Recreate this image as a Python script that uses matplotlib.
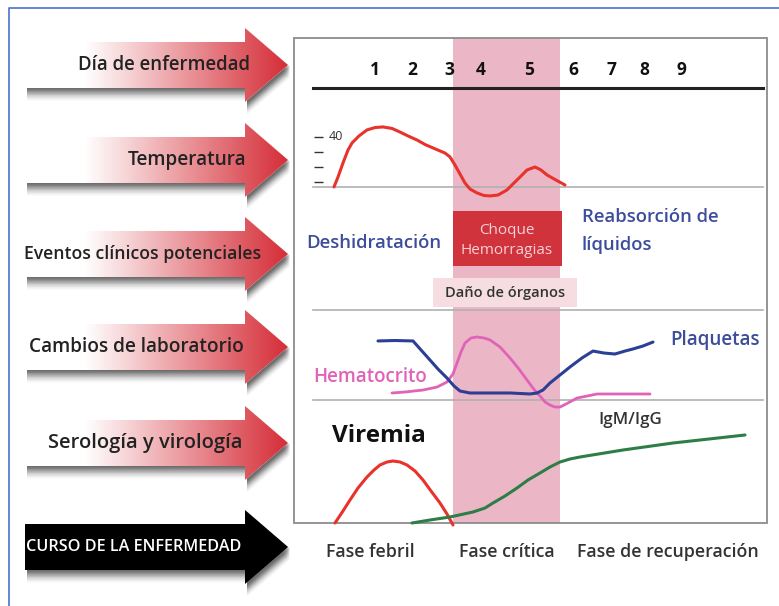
import numpy as np
import matplotlib.pyplot as plt
from matplotlib.patches import Polygon, Rectangle

plt.rcParams['font.family'] = ['Open Sans', 'DejaVu Sans']

W, H = 779, 606

### Etiquetas de filas (flechas)
row_labels = ['Día de enfermedad', 'Temperatura', 'Eventos clínicos potenciales',
              'Cambios de laboratorio', 'Serología y virología', 'CURSO DE LA ENFERMEDAD']
row_y = [65, 160, 254, 347, 443, 547]
row_right = [250, 246, 261, 244, 243, 241]
row_size = [13.4, 13.7, 12.7, 13.7, 14.5, 11.7]

### Dias
day_labels = ['1', '2', '3', '4', '5', '6', '7', '8', '9']
day_x = [375, 412, 449, 481, 529, 573, 611, 644, 681]

### Temperatura (grados C)
temp_x = [334, 338, 343, 348, 352, 359, 367, 375, 383, 392, 400, 408, 417, 425, 433, 440,
          445, 450, 455, 460, 465, 470, 477, 484, 490, 498, 507, 513, 520, 527, 535, 541,
          547, 556, 565]
temp_c = [36.67, 37.33, 38.27, 39.13, 39.6, 40.07, 40.47, 40.63, 40.67, 40.57, 40.33, 40.07,
          39.8, 39.5, 39.27, 39.07, 38.93, 38.67, 38.13, 37.53, 36.93, 36.53, 36.27, 36.1,
          36.07, 36.13, 36.47, 36.87, 37.33, 37.8, 38.0, 37.8, 37.47, 37.13, 36.8]
temp_ticks = [37, 38, 39, 40]

### Laboratorio (nivel relativo)
plaq_x = [378, 395, 413, 421, 430, 438, 447, 454, 460, 470, 490, 510, 530, 537, 543, 550,
          560, 570, 582, 593, 604, 615, 625, 633, 643, 653]
plaq_v = [65.6, 66.1, 65.6, 55.6, 44.4, 34.4, 24.4, 15.6, 10.0, 7.8, 7.8, 7.8, 6.7, 7.8,
          11.1, 18.9, 27.8, 36.7, 46.7, 54.4, 52.2, 51.1, 54.4, 56.7, 60.0, 64.4]
hema_x = [392, 405, 423, 437, 447, 453, 457, 461, 465, 471, 477, 484, 490, 500, 510, 519,
          527, 533, 537, 541, 545, 550, 555, 560, 568, 577, 587, 597, 620, 650]
hema_v = [7.8, 8.9, 11.1, 14.4, 20.0, 28.9, 41.1, 53.3, 63.3, 68.9, 70.0, 68.9, 66.7, 58.9,
          46.7, 34.4, 22.2, 13.3, 7.8, 3.3, -2.2, -5.6, -7.8, -7.8, -3.3, 2.2, 4.4, 6.7,
          6.7, 6.7]

### Serologia (nivel relativo)
vir_x = [335, 343, 350, 358, 367, 374, 380, 387, 393, 400, 407, 415, 423, 431, 440, 447, 453]
vir_v = [0, 12, 23, 35, 46, 53, 58, 61, 62, 61, 58, 52, 43, 32, 20, 9, -2]
igg_x = [412, 430, 450, 473, 485, 493, 505, 517, 528, 540, 550, 560, 570, 580, 623, 673, 745]
igg_v = [0, 3, 6, 11, 15, 20, 27, 35, 43, 50, 56, 61, 64, 66, 73, 80, 88]

### Fases
phase_labels = ['Fase febril', 'Fase crítica', 'Fase de recuperación']
phase_x = [370, 507, 668]

RED = '#e8322c'
BLUE = '#2b3f94'
PINK = '#e063b8'
GREEN = '#2e7d46'
TXTBLUE = '#3d4d9c'
SW = 'semibold'
LW = 2.2

fig = plt.figure(figsize=(W / 100, H / 100), dpi=100)
ax = fig.add_axes([0, 0, 1, 1])
ax.set_xlim(0, W)
ax.set_ylim(H, 0)
ax.axis('off')

# marco azul
ax.plot([9, 9, W], [H, 8, 8], color='#4a6fd0', lw=1.2)

# flechas
def arrow_pts(cy, x0=25, xh=245, xt=288, bh=23, hh=37):
    return [(x0, cy - bh), (xh, cy - bh), (xh, cy - hh), (xt, cy),
            (xh, cy + hh), (xh, cy + bh), (x0, cy + bh)]

xs = np.linspace(25, 288, 300)
t = np.clip((xs - 85) / 200.0, 0, 1)
red = np.array([214, 48, 58]) / 255.0
grad = (1 - t)[:, None] * np.ones(3) + t[:, None] * red
grad = grad[None, :, :]

for i, cy in enumerate(row_y):
    pts = arrow_pts(cy)
    for k, a in zip(range(1, 10), [0.13, 0.13, 0.12, 0.11, 0.09, 0.07, 0.05, 0.04, 0.03]):
        sh = Polygon([(x + 2, y + k * 1.4) for x, y in pts], closed=True,
                     fc='black', ec='none', alpha=a)
        ax.add_patch(sh)
    poly = Polygon(pts, closed=True, fc='white' if i < 5 else 'black', ec='none')
    ax.add_patch(poly)
    if i < 5:
        im = ax.imshow(grad, extent=(25, 288, cy + 37, cy - 37), aspect='auto',
                       interpolation='bilinear', zorder=2)
        im.set_clip_path(poly)
        ax.text(row_right[i], cy, row_labels[i], ha='right', va='center',
                fontsize=row_size[i], color='#222222', zorder=3, fontweight=SW)
    else:
        ax.text(row_right[i], cy, row_labels[i], ha='right', va='center',
                fontsize=row_size[i], color='white', zorder=3, fontweight=SW)

ax.set_xlim(0, W)
ax.set_ylim(H, 0)

# panel
ax.add_patch(Rectangle((453, 38), 107, 485, fc='#ebb7c6', ec='none', zorder=1))
ax.add_patch(Rectangle((294, 38), 473, 485, fill=False, ec='#8c8c8c', lw=1.3, zorder=4))
ax.plot([313, 763], [88, 88], color='#222222', lw=2.2, zorder=3)
for yy in [187, 310, 400]:
    ax.plot([313, 763], [yy, yy], color='#b0b0b0', lw=1.2, zorder=2)

for lab, x in zip(day_labels, day_x):
    ax.text(x, 70, lab, ha='center', va='center', fontsize=12.5, fontweight='bold',
            color='#111111', zorder=3)

# eventos clinicos
ax.text(374, 243, 'Deshidratación', ha='center', va='center', fontsize=13.3,
        color=TXTBLUE, fontweight=SW)
ax.add_patch(Rectangle((453, 211), 109, 55, fc='#d0333b', ec='none', zorder=2))
ax.text(507, 230, 'Choque', ha='center', va='center', fontsize=11, color='#f7d0d8',
        zorder=3)
ax.text(507, 251, 'Hemorragias', ha='center', va='center', fontsize=11, color='#f7d0d8',
        zorder=3)
ax.text(582, 217, 'Reabsorción de', ha='left', va='center', fontsize=13.3, color=TXTBLUE,
        fontweight=SW)
ax.text(582, 245, 'líquidos', ha='left', va='center', fontsize=13.3, color=TXTBLUE,
        fontweight=SW)
ax.add_patch(Rectangle((433, 278), 144, 29, fc='#f6dde1', ec='none', zorder=2))
ax.text(505, 293, 'Daño de órganos', ha='center', va='center', fontsize=10.5,
        color='#333333', zorder=3, fontweight=SW)

# laboratorio / serologia textos
ax.text(670, 340, 'Plaquetas', ha='left', va='center', fontsize=13.5, color=TXTBLUE,
        fontweight=SW)
ax.text(313, 377, 'Hematocrito', ha='left', va='center', fontsize=13.5, color=PINK,
        fontweight=SW)
ax.text(332, 436, 'Viremia', ha='left', va='center', fontsize=17.5, fontweight='bold',
        color='#111111')
ax.text(598, 420, 'IgM/IgG', ha='left', va='center', fontsize=12.2, color='#333333',
        fontweight=SW)

for lab, x in zip(phase_labels, phase_x):
    ax.text(x, 552, lab, ha='center', va='center', fontsize=12.8, color='#333333',
            fontweight=SW)


def row_axes(top, bottom, ylim):
    a = fig.add_axes([0, 1 - bottom / H, 1, (bottom - top) / H])
    a.set_xlim(0, W)
    a.set_ylim(*ylim)
    a.axis('off')
    a.patch.set_alpha(0)
    return a

# temperatura
axt = row_axes(120, 200, (35.8, 41.133))
axt.plot(temp_x, temp_c, color=RED, lw=LW, solid_capstyle='round')
axt.hlines(temp_ticks, 314, 323, color='#333333', lw=1.0)
axt.text(329, 40, '40', ha='left', va='center', fontsize=9, color='#333333')

# laboratorio
axl = row_axes(300, 420, (-22.2, 111.1))
axl.plot(hema_x, hema_v, color=PINK, lw=2.0, solid_capstyle='round')
axl.plot(plaq_x, plaq_v, color=BLUE, lw=LW, solid_capstyle='round')

# serologia
axs = row_axes(420, 530, (-7, 103))
axs.plot(vir_x, vir_v, color=RED, lw=LW, solid_capstyle='round')
axs.plot(igg_x, igg_v, color=GREEN, lw=LW, solid_capstyle='round')

fig.savefig('out.png', dpi=100)
